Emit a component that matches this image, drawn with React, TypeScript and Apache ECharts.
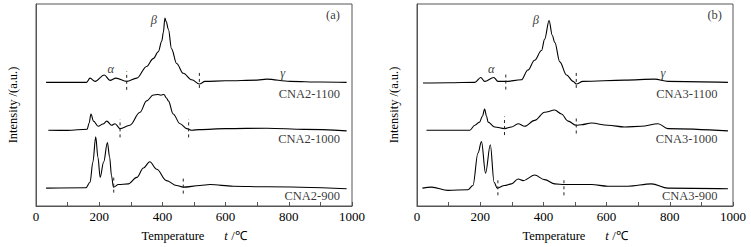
import React, { useEffect, useRef } from "react";
import * as echarts from "echarts";

// Temperature (°C) vs intensity (a.u., offset per curve)
const cna2_1100: [number, number][] = [
  [32, 126.7], [160, 126.7], [171, 131], [187, 127.7], [216, 134.3], [234, 128.7], [253, 131], [287, 127.7],
  [319, 131], [350, 143], [371, 151], [387, 158], [398, 169], [403, 178], [408, 192.7], [412, 189], [419, 181],
  [429, 161], [445, 146], [466, 136], [493, 129.3], [517, 125], [535, 127.7], [600, 128.3], [700, 129],
  [730, 130], [804, 127.7], [900, 127], [983, 126.7],
];
const cna2_1000: [number, number][] = [
  [39, 77.7], [100, 77.5], [162, 78.7], [168, 85], [174, 94.3], [182, 87], [197, 81.7], [212, 84], [224, 87],
  [239, 82.7], [250, 84.3], [266, 79.3], [297, 82.7], [329, 96], [350, 107.7], [371, 113.7], [385, 114.3],
  [395, 113.5], [405, 114.3], [412, 111], [419, 107.7], [434, 94.3], [456, 84.3], [477, 79.3], [493, 77.7],
  [517, 78.3], [600, 79.3], [730, 79.7], [850, 78.5], [983, 77],
];
const cna2_900: [number, number][] = [
  [32, 18.3], [158, 18.7], [171, 24.3], [180, 45], [189, 71], [196, 50], [203, 29.3], [214, 45], [226, 65],
  [233, 50], [239, 31], [245, 19.3], [261, 22], [292, 22.7], [319, 29.3], [340, 39], [360, 45.3], [382, 37.7],
  [413, 26], [445, 21], [466, 19.3], [519, 21], [551, 22], [624, 20.3], [730, 19.7], [983, 17.7],
];
const cna3_1100: [number, number][] = [
  [19, 126], [100, 126.3], [183, 126.7], [202, 131.7], [214, 127.7], [243, 131.7], [256, 127.7], [281, 127.7],
  [330, 129.3], [351, 139.3], [372, 149.3], [394, 159.3], [404, 171], [418, 190], [428, 175], [436, 167.7],
  [452, 147.7], [473, 134.3], [494, 127.7], [504, 125], [525, 127.7], [657, 129], [752, 130], [794, 127.7],
  [984, 126.7],
];
const cna3_1000: [number, number][] = [
  [30, 77.7], [167, 77.7], [183, 82.7], [198, 86], [207, 92], [214, 99.3], [220, 92], [225, 86], [246, 81],
  [277, 79.3], [299, 81], [320, 84.3], [341, 81.7], [372, 87.7], [404, 96], [436, 98.3], [457, 94.3],
  [478, 87], [504, 82.7], [520, 83.3], [552, 85], [604, 82.7], [657, 81], [710, 81.7], [763, 84.3],
  [794, 79.3], [984, 77],
];
const cna3_900: [number, number][] = [
  [17, 18.3], [46, 19.3], [98, 16], [161, 16.7], [177, 21], [193, 54.3], [204, 66], [217, 33.7], [232, 62.7],
  [244, 24.3], [254, 18.3], [277, 21], [299, 22.7], [320, 27.7], [336, 26], [372, 31.7], [404, 27],
  [436, 22.7], [467, 22], [552, 22], [604, 20.3], [668, 20.3], [742, 22.7], [794, 18.3], [984, 17.7],
];

// Peak-region boundaries: [temperature, yLow, yHigh]
const dividersA: [number, number, number][] = [
  [287, 119, 138], [517, 121, 139], [266, 70.3, 89], [483, 70.3, 89], [246, 13.7, 30], [466, 12.7, 29.3],
];
const dividersB: [number, number, number][] = [
  [281, 119.3, 137.7], [504, 121, 137.7], [277, 72.7, 91.7], [504, 74.3, 91], [256, 11, 29.3], [465, 11, 29.3],
];

const curveNamesA = ["CNA2-1100", "CNA2-1000", "CNA2-900"];
const curveNamesB = ["CNA3-1100", "CNA3-1000", "CNA3-900"];
const nameLabelYs = [114.3, 68.3, 10];
const nameLabelXA = 962;
const nameLabelXB = 951;
const greekA: [string, number, number][] = [["α", 237, 140], ["β", 373, 191], ["γ", 781, 136]];
const greekB: [string, number, number][] = [["α", 235, 140], ["β", 376, 191], ["γ", 778, 136]];
const panelTags: [string, number, number][] = [["(a)", 940, 196], ["(b)", 942, 196]];

const FONT = "Liberation Serif";

function dividerSeries(div: [number, number, number][], idx: number) {
  return div.map((d) => ({
    type: "line",
    xAxisIndex: idx,
    yAxisIndex: idx,
    data: [[d[0], d[1]], [d[0], d[2]]],
    symbol: "none",
    silent: true,
    lineStyle: { color: "#222", width: 1, type: [3, 3] },
  }));
}

function curveSeries(data: [number, number][], idx: number) {
  return {
    type: "line",
    xAxisIndex: idx,
    yAxisIndex: idx,
    data,
    symbol: "none",
    smooth: 0.35,
    smoothMonotone: "x",
    lineStyle: { color: "#000", width: 1.1 },
  };
}

function textSeries(items: any[], idx: number) {
  return {
    type: "scatter",
    xAxisIndex: idx,
    yAxisIndex: idx,
    symbolSize: 0,
    silent: true,
    itemStyle: { color: "#000" },
    data: items,
  };
}

export default function App() {
  const ref = useRef<HTMLDivElement>(null);
  useEffect(() => {
    if (!ref.current) return;
    const chart = echarts.init(ref.current, null, { renderer: "svg" });
    const xAxis = (gi: number) => ({
      type: "value",
      gridIndex: gi,
      min: 0,
      max: 1000,
      interval: 100,
      axisLine: { show: true, lineStyle: { color: "#555", width: 1 } },
      axisTick: { show: true, inside: true, length: 4, lineStyle: { color: "#555" } },
      splitLine: { show: false },
      axisLabel: {
        color: "#000",
        fontFamily: FONT,
        fontSize: 13,
        margin: 4,
        formatter: (v: number) => (v % 200 === 0 ? String(v) : ""),
      },
      name: "{a|Temperature}      {b|t} {a|/℃}",
      nameLocation: "middle",
      nameGap: 23,
      nameTextStyle: {
        rich: {
          a: { fontFamily: FONT, fontSize: 12.5, color: "#000" },
          b: { fontFamily: FONT, fontSize: 12.5, color: "#000", fontStyle: "italic" },
        },
      },
    });
    const yAxis = (gi: number) => ({
      type: "value",
      gridIndex: gi,
      min: 0,
      max: 207,
      axisLine: { show: true, lineStyle: { color: "#555", width: 1 } },
      axisTick: { show: false },
      axisLabel: { show: false },
      splitLine: { show: false },
      name: "Intensity /(a.u.)",
      nameLocation: "middle",
      nameGap: 17,
      nameTextStyle: { fontFamily: FONT, fontSize: 12.5, color: "#000" },
    });
    const labelItems = (names: string[], lx: number, greek: [string, number, number][], tag: [string, number, number]) => [
      ...names.map((n, i) => ({
        value: [lx, nameLabelYs[i]],
        label: {
          show: true, position: "left", distance: 0, formatter: n,
          fontFamily: FONT, fontSize: 12.5, color: "#000", textBorderWidth: 0,
        },
      })),
      ...greek.map((g) => ({
        value: [g[1], g[2]],
        label: {
          show: true, position: [0, 0], align: "center", verticalAlign: "middle", formatter: g[0],
          fontFamily: FONT, fontSize: 12.5, fontStyle: "italic", color: "#000", textBorderWidth: 0,
        },
      })),
      {
        value: [tag[1], tag[2]],
        label: {
          show: true, position: [0, 0], align: "center", verticalAlign: "middle", formatter: tag[0],
          fontFamily: FONT, fontSize: 12.5, color: "#000", textBorderWidth: 0,
        },
      },
    ];
    chart.setOption({
      animation: false,
      backgroundColor: "#fff",
      grid: [
        { left: 36, top: 4, width: 316, height: 207, show: true, borderColor: "#555", borderWidth: 1, backgroundColor: "transparent" },
        { left: 417, top: 4, width: 316, height: 207, show: true, borderColor: "#555", borderWidth: 1, backgroundColor: "transparent" },
      ],
      xAxis: [xAxis(0), xAxis(1)],
      yAxis: [yAxis(0), yAxis(1)],
      series: [
        curveSeries(cna2_1100, 0),
        curveSeries(cna2_1000, 0),
        curveSeries(cna2_900, 0),
        curveSeries(cna3_1100, 1),
        curveSeries(cna3_1000, 1),
        curveSeries(cna3_900, 1),
        ...dividerSeries(dividersA, 0),
        ...dividerSeries(dividersB, 1),
        textSeries(labelItems(curveNamesA, nameLabelXA, greekA, panelTags[0]), 0),
        textSeries(labelItems(curveNamesB, nameLabelXB, greekB, panelTags[1]), 1),
      ],
    });
    return () => chart.dispose();
  }, []);
  return <div ref={ref} style={{ position: "fixed", left: 0, top: 0, width: 751, height: 247 }} />;
}
